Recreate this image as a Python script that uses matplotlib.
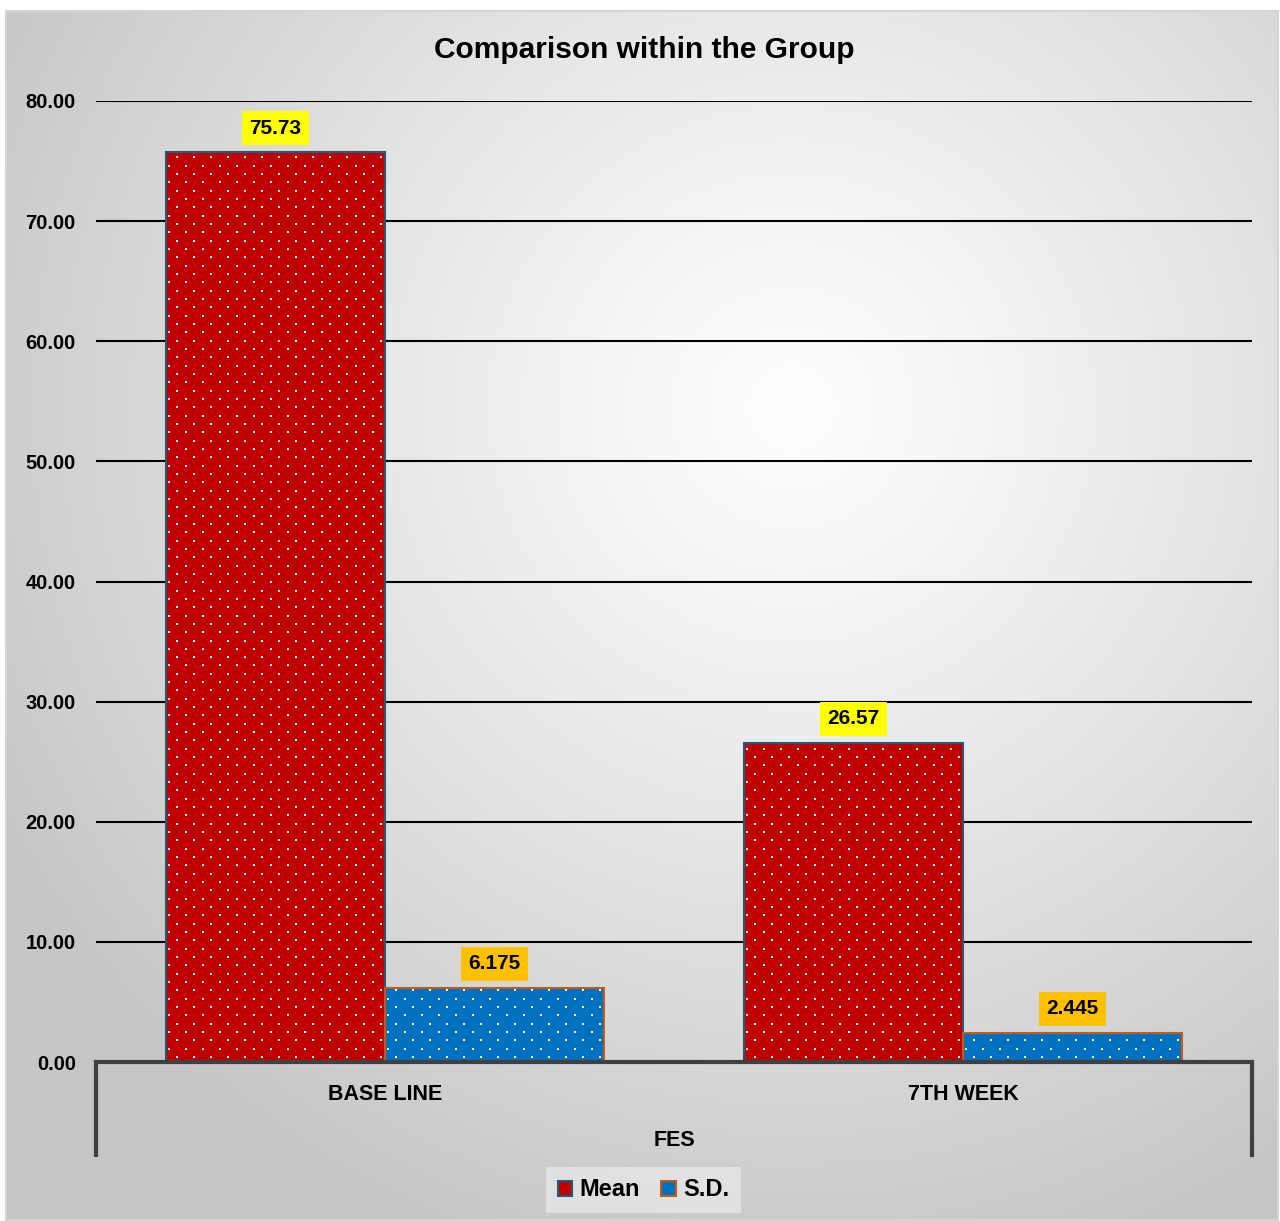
import matplotlib
matplotlib.use("Agg")
import matplotlib.pyplot as plt
import numpy as np
from matplotlib.patches import Rectangle

categories = ["BASE LINE", "7TH WEEK"]
series = ["Mean", "S.D."]
mean_vals = [75.73, 26.57]
sd_vals = [6.175, 2.445]
mean_labels = ["75.73", "26.57"]
sd_labels = ["6.175", "2.445"]
yticks = [0, 10, 20, 30, 40, 50, 60, 70, 80]

RED = "#C00000"
BLUE = "#0070C0"
RED_EDGE = "#1F5A78"
BLUE_EDGE = "#C55A11"

plt.rcParams["font.family"] = ["Liberation Sans", "DejaVu Sans"]

W, H = 1280, 1221
fig = plt.figure(figsize=(W / 100, H / 100), dpi=100)
fig.patch.set_facecolor("white")

# radial grey background
bg = fig.add_axes([6 / W, 1 / H, 1272 / W, 1 - 12 / H], zorder=-5)
yy, xx = np.mgrid[0:H, 0:W]
r = np.sqrt(((xx - 790) / 900.0) ** 2 + ((yy - 400) / 900.0) ** 2)
r = np.clip(r, 0, 1)
shade = 1.0 - 0.22 * r ** 1.1
bg.imshow(np.dstack([shade] * 3), aspect="auto", extent=[0, 1, 0, 1])
bg.set_axis_off()
fig.patches.append(Rectangle((6 / W, 1 / H), 1272 / W, 1 - 12 / H,
                             transform=fig.transFigure, fill=False,
                             edgecolor="#d4d4d4", lw=1.5, zorder=-4))

ax = fig.add_axes([96 / W, 1 - 1062 / H, (1252 - 96) / W, (1062 - 101) / H])
ax.patch.set_alpha(0)
ax.set_xlim(-0.5, 1.5)
ax.set_ylim(0, 80)

x = np.arange(len(categories))
bw = 0.379
pos_m = x - bw / 2
pos_s = x + bw / 2
bars_m = ax.bar(pos_m, mean_vals, bw, color=RED, edgecolor=RED_EDGE, lw=1.5, zorder=3)
bars_s = ax.bar(pos_s, sd_vals, bw, color=BLUE, edgecolor=BLUE_EDGE, lw=1.5, zorder=3)


def dot_texture(bars):
    # white dotted fill pattern, staggered rows (~17px apart, rows ~8.3px)
    px_x = ax.get_position().width * W / 2.0   # pixels per x unit
    px_y = ax.get_position().height * H / 80.0  # pixels per y unit
    dx, dy = 17.0 / px_x, 8.33 / px_y
    for b in bars:
        x0, w, h = b.get_x(), b.get_width(), b.get_height()
        rows = np.arange(dy * 0.6, h - dy * 0.3, dy)
        xs, ys = [], []
        for k, yv in enumerate(rows):
            start = x0 + (0.16 if k % 2 else 0.66) * dx
            cols = np.arange(start, x0 + w - 0.1 * dx, dx)
            xs.extend(cols)
            ys.extend([yv] * len(cols))
        sc = ax.scatter(xs, ys, s=2.6, marker="s", color="white", linewidths=0, zorder=4)
        sc.set_clip_path(b)


dot_texture(bars_m)
dot_texture(bars_s)

for px, v, t in zip(pos_m, mean_vals, mean_labels):
    ax.annotate(t, (px, v), xytext=(0, 17.3), textcoords="offset points", ha="center", va="center",
                fontsize=15, fontweight="bold", zorder=6,
                bbox=dict(boxstyle="square,pad=0.36", fc="#FFFF00", ec="none"))
for px, v, t in zip(pos_s, sd_vals, sd_labels):
    ax.annotate(t, (px, v), xytext=(0, 17.3), textcoords="offset points", ha="center", va="center",
                fontsize=15, fontweight="bold", zorder=6,
                bbox=dict(boxstyle="square,pad=0.36", fc="#FFC000", ec="none"))

ax.set_yticks(yticks)
ax.set_yticklabels([f"{v:.2f}" for v in yticks], fontsize=14.5, fontweight="bold")
ax.tick_params(axis="y", length=0, pad=14.5)
ax.set_xticks([])
ax.grid(axis="y", color="black", lw=1.5, zorder=0)
for s in ["top", "right", "left"]:
    ax.spines[s].set_visible(False)
ax.spines["bottom"].set_color("#404040")
ax.spines["bottom"].set_linewidth(3)
ax.spines["bottom"].set_zorder(5)

# category axis frame
for xf in [96, 1252]:
    fig.add_artist(plt.Line2D([xf / W, xf / W], [1 - 1062 / H, 1 - 1155 / H],
                              transform=fig.transFigure, color="#404040", lw=3))
for xc, name in zip(x, categories):
    ax.text(xc, -0.0335, name, transform=ax.get_xaxis_transform(), ha="center", va="center",
            fontsize=15.5, fontweight="bold")
fig.text(674 / W, 1 - 1140 / H, "FES", ha="center", va="center", fontsize=15.5, fontweight="bold")

fig.text(644 / W, 1 - 50 / H, "Comparison within the Group", ha="center", va="center",
         fontsize=21.5, fontweight="bold")

# legend
handles = [Rectangle((0, 0), 1, 1, fc=RED, ec=RED_EDGE, lw=1.5),
           Rectangle((0, 0), 1, 1, fc=BLUE, ec=BLUE_EDGE, lw=1.5)]
leg = fig.legend(handles, series, loc="center", bbox_to_anchor=(643.5 / W, 1 - 1190 / H),
                 ncol=2, frameon=True, fancybox=False, handlelength=0.62, handleheight=0.62,
                 handletextpad=0.3, columnspacing=0.9, borderpad=0.5,
                 prop=dict(size=17, weight="bold"))
leg.get_frame().set_facecolor("#e6e6e6")
leg.get_frame().set_edgecolor("none")

fig.savefig("out.png", dpi=100)
